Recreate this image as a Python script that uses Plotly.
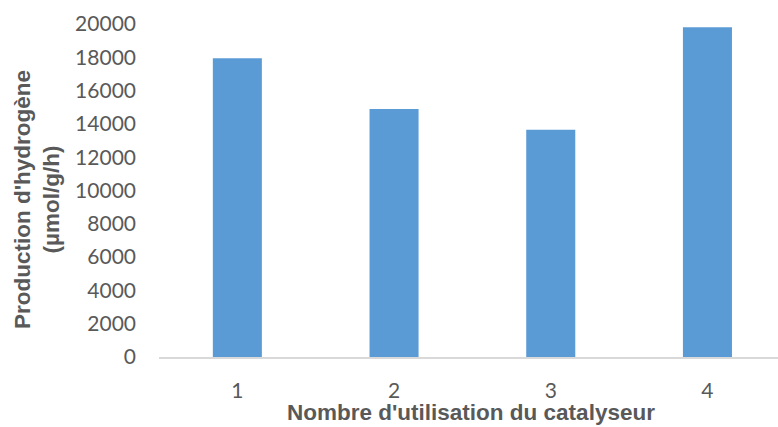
import plotly.graph_objects as go

categories = [1, 2, 3, 4]
production = [17950, 14900, 13650, 19800]
y_ticks = [0, 2000, 4000, 6000, 8000, 10000, 12000, 14000, 16000, 18000, 20000]

W, H = 778, 427
L, R, T, B = 159, 0, 24, 70
pw = W - L - R
ph = H - T - B
TICK_FONT = "Lato"
TITLE_FONT = "Liberation Sans"
GREY = "#595959"

fig = go.Figure(go.Bar(
    x=categories, y=production,
    marker=dict(color="#5B9BD5", line=dict(width=0)),
    width=0.313,
))

fig.update_layout(
    width=W, height=H,
    margin=dict(l=L, r=R, t=T, b=B, pad=0),
    plot_bgcolor="white", paper_bgcolor="white",
    showlegend=False,
    font=dict(family=TICK_FONT, color=GREY, size=21),
    xaxis=dict(
        range=[0.5, 0.5 + pw / 156.7],
        tickmode="array", tickvals=categories, ticktext=[str(c) for c in categories],
        showgrid=False, zeroline=False,
        showline=True, linecolor="#D9D9D9", linewidth=1.5,
        ticks="", ticklabelstandoff=14,
        tickfont=dict(family=TICK_FONT, size=21, color=GREY),
    ),
    yaxis=dict(
        range=[0, 20000],
        tickmode="array", tickvals=y_ticks, ticktext=[str(v) for v in y_ticks],
        showgrid=False, zeroline=False, showline=False,
        ticks="", ticklabelstandoff=22,
        tickfont=dict(family=TICK_FONT, size=21, color=GREY),
    ),
    annotations=[
        dict(
            text="<b>Production d'hydrogène<br>(µmol/g/h)</b>",
            xref="paper", yref="paper",
            x=(37 - L) / pw, y=(357 - 200) / ph,
            xanchor="center", yanchor="middle",
            textangle=-90, showarrow=False,
            font=dict(family=TITLE_FONT, size=22.5, color=GREY),
        ),
        dict(
            text="<b>Nombre d'utilisation du catalyseur</b>",
            xref="paper", yref="paper",
            x=(471 - L) / pw, y=-(427 - 357) / ph,
            xanchor="center", yanchor="bottom",
            showarrow=False,
            font=dict(family=TITLE_FONT, size=22.5, color=GREY),
        ),
    ],
)

fig.write_html(
    "out.html",
    config={"displayModeBar": False},
    post_script="document.body.style.margin='0';document.body.style.overflow='hidden';",
)
